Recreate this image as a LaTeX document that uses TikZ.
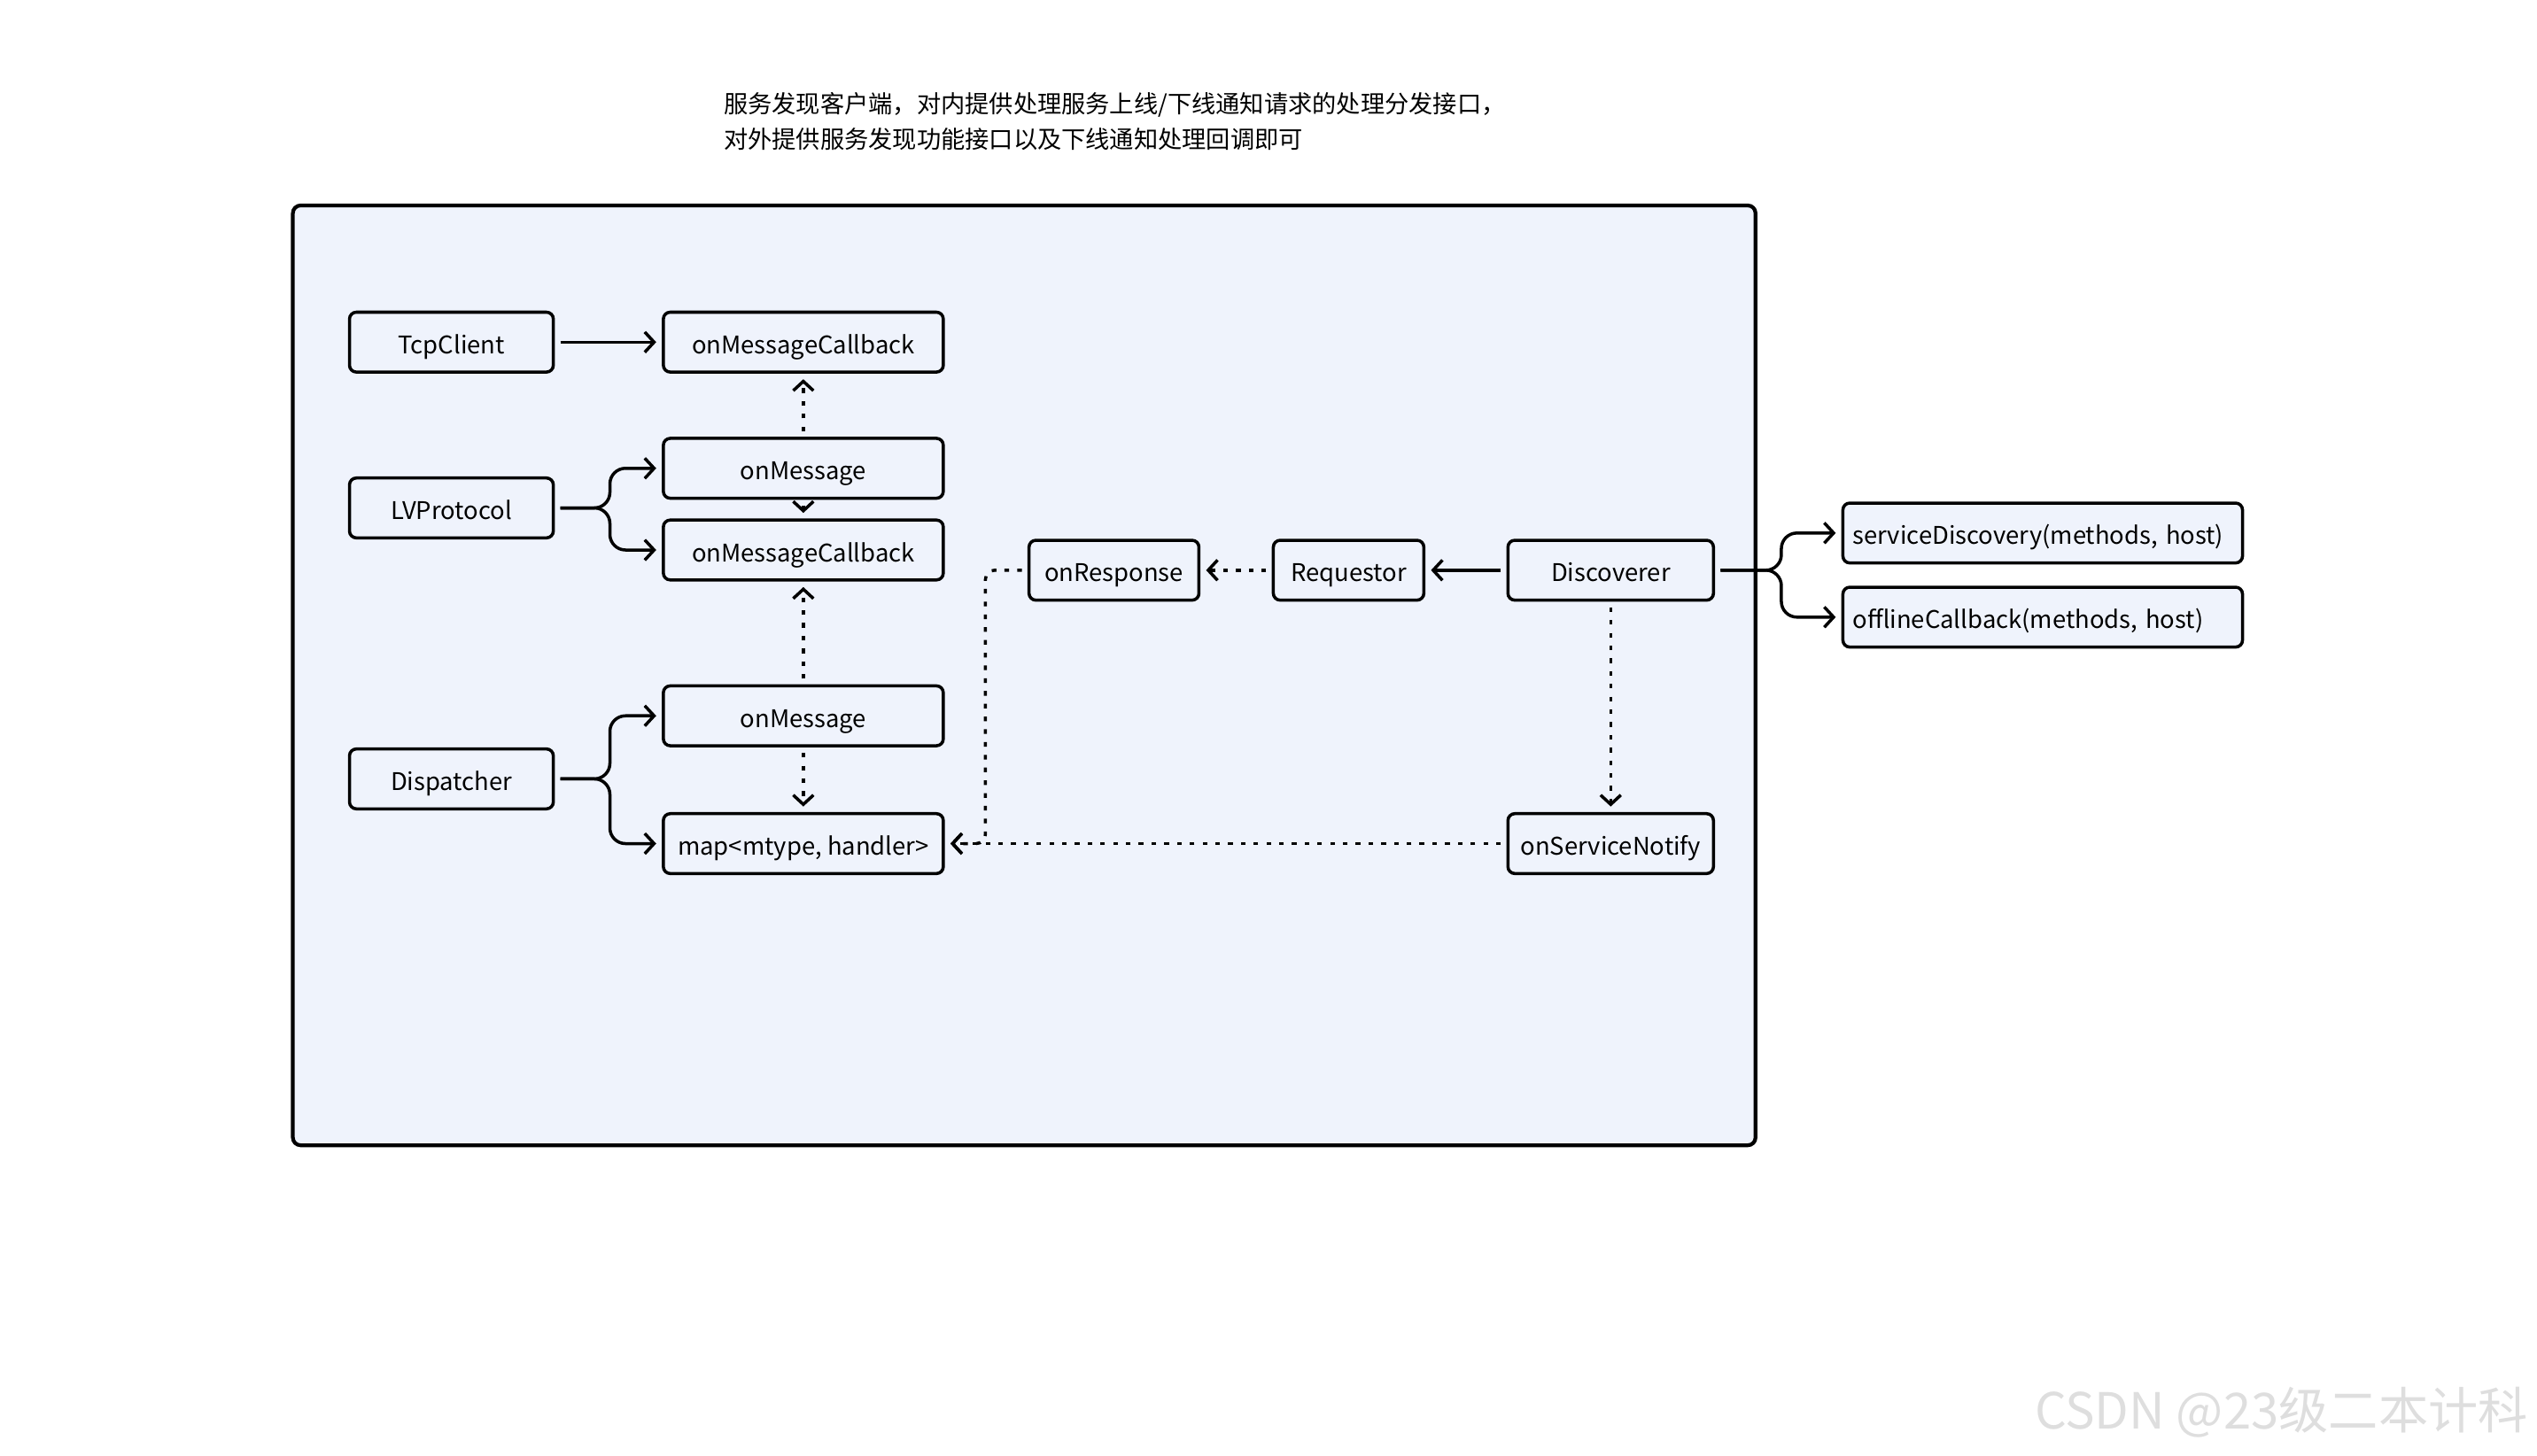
\documentclass[tikz,border=0pt]{standalone}
\usepackage{fontspec}
\setmainfont{Noto Sans CJK SC}
\usetikzlibrary{arrows.meta}
\definecolor{panel}{RGB}{239,243,252}
\begin{document}
\begin{tikzpicture}[x=0.018265cm,y=-0.018265cm,
  box/.style={draw, line width=1pt, rounded corners=2.2pt, fill=panel, minimum height=0.676cm, inner sep=0pt, text height=0.74em, text depth=0em, font=\fontsize{7.8}{10}\selectfont},
  conn/.style={line width=1pt, -{Straight Barb[length=3pt,width=6.5pt]}, shorten <=1.8pt, shorten >=1.8pt},
  dots/.style={conn, dash pattern=on 1.5pt off 2.6pt},
  fork/.style={conn, rounded corners=5pt},
  note/.style={anchor=base west, inner sep=0pt, font=\fontsize{7.75}{10}\selectfont}]
\useasboundingbox[fill=white] (0,0) rectangle (1568,900);
% container
\draw[line width=1.2pt, fill=panel, rounded corners=2.5pt] (181,127) rectangle (1085,708);
% note
\node[note] (note1) at (447,69.6) {服务发现客户端，对内提供处理服务上线/下线通知请求的处理分发接口，};
\node[note] (note2) at (447,91.6) {对外提供服务发现功能接口以及下线通知处理回调即可};
% nodes
\node[box, minimum width=2.301cm] (tcp) at (279,211.5) {TcpClient};
\node[box, minimum width=3.160cm] (omc1) at (496.5,211.5) {onMessageCallback};
\node[box, minimum width=3.160cm] (om1) at (496.5,289.5) {onMessage};
\node[box, minimum width=2.301cm] (lvp) at (279,314) {LVProtocol};
\node[box, minimum width=3.160cm] (omc2) at (496.5,340) {onMessageCallback};
\node[box, minimum width=3.160cm] (om2) at (496.5,442.5) {onMessage};
\node[box, minimum width=2.301cm] (disp) at (279,481.5) {Dispatcher};
\node[box, minimum width=3.160cm] (map) at (496.5,521.5) {map<mtype, handler>};
\node[box, minimum width=1.918cm] (resp) at (688.5,352.5) {onResponse};
\node[box, minimum width=1.699cm] (req) at (833.5,352.5) {Requestor};
\node[box, minimum width=2.320cm] (disc) at (995.5,352.5) {Discoverer};
\node[box, minimum width=2.320cm] (notify) at (995.5,521.5) {onServiceNotify};
\node[box, minimum width=4.511cm, text width=4.29cm, align=left] (sd) at (1262.5,329.5) {serviceDiscovery(methods, host)};
\node[box, minimum width=4.511cm, text width=4.29cm, align=left] (off) at (1262.5,381.5) {offlineCallback(methods, host)};
% connectors
\draw[conn] (tcp.east) -- (omc1.west);
\draw[dots] (om1.north) -- (omc1.south);
\draw[conn] (om1.south) -- (omc2.north);
\draw[dots] (om2.north) -- (omc2.south);
\draw[dots] (om2.south) -- (map.north);
\draw[fork] (lvp.east) -- ++(34,0) |- (om1.west);
\draw[fork] (lvp.east) -- ++(34,0) |- (omc2.west);
\draw[fork] (disp.east) -- ++(34,0) |- (om2.west);
\draw[fork] (disp.east) -- ++(34,0) |- (map.west);
\draw[conn] (disc.west) -- (req.east);
\draw[dots] (req.west) -- (resp.east);
\draw[dots] (disc.south) -- (notify.north);
\draw[dots] (notify.west) -- (map.east);
\draw[dots, rounded corners=3pt] (resp.west) -- ++(-26,0) |- (map.east);
\draw[fork] (disc.east) -- ++(41,0) |- (sd.west);
\draw[fork] (disc.east) -- ++(41,0) |- (off.west);
% watermark
\node[font=\fontsize{16}{16}\selectfont, text=black!13] (wm) at (1410,873) {CSDN @23级二本计科};
\end{tikzpicture}
\end{document}
